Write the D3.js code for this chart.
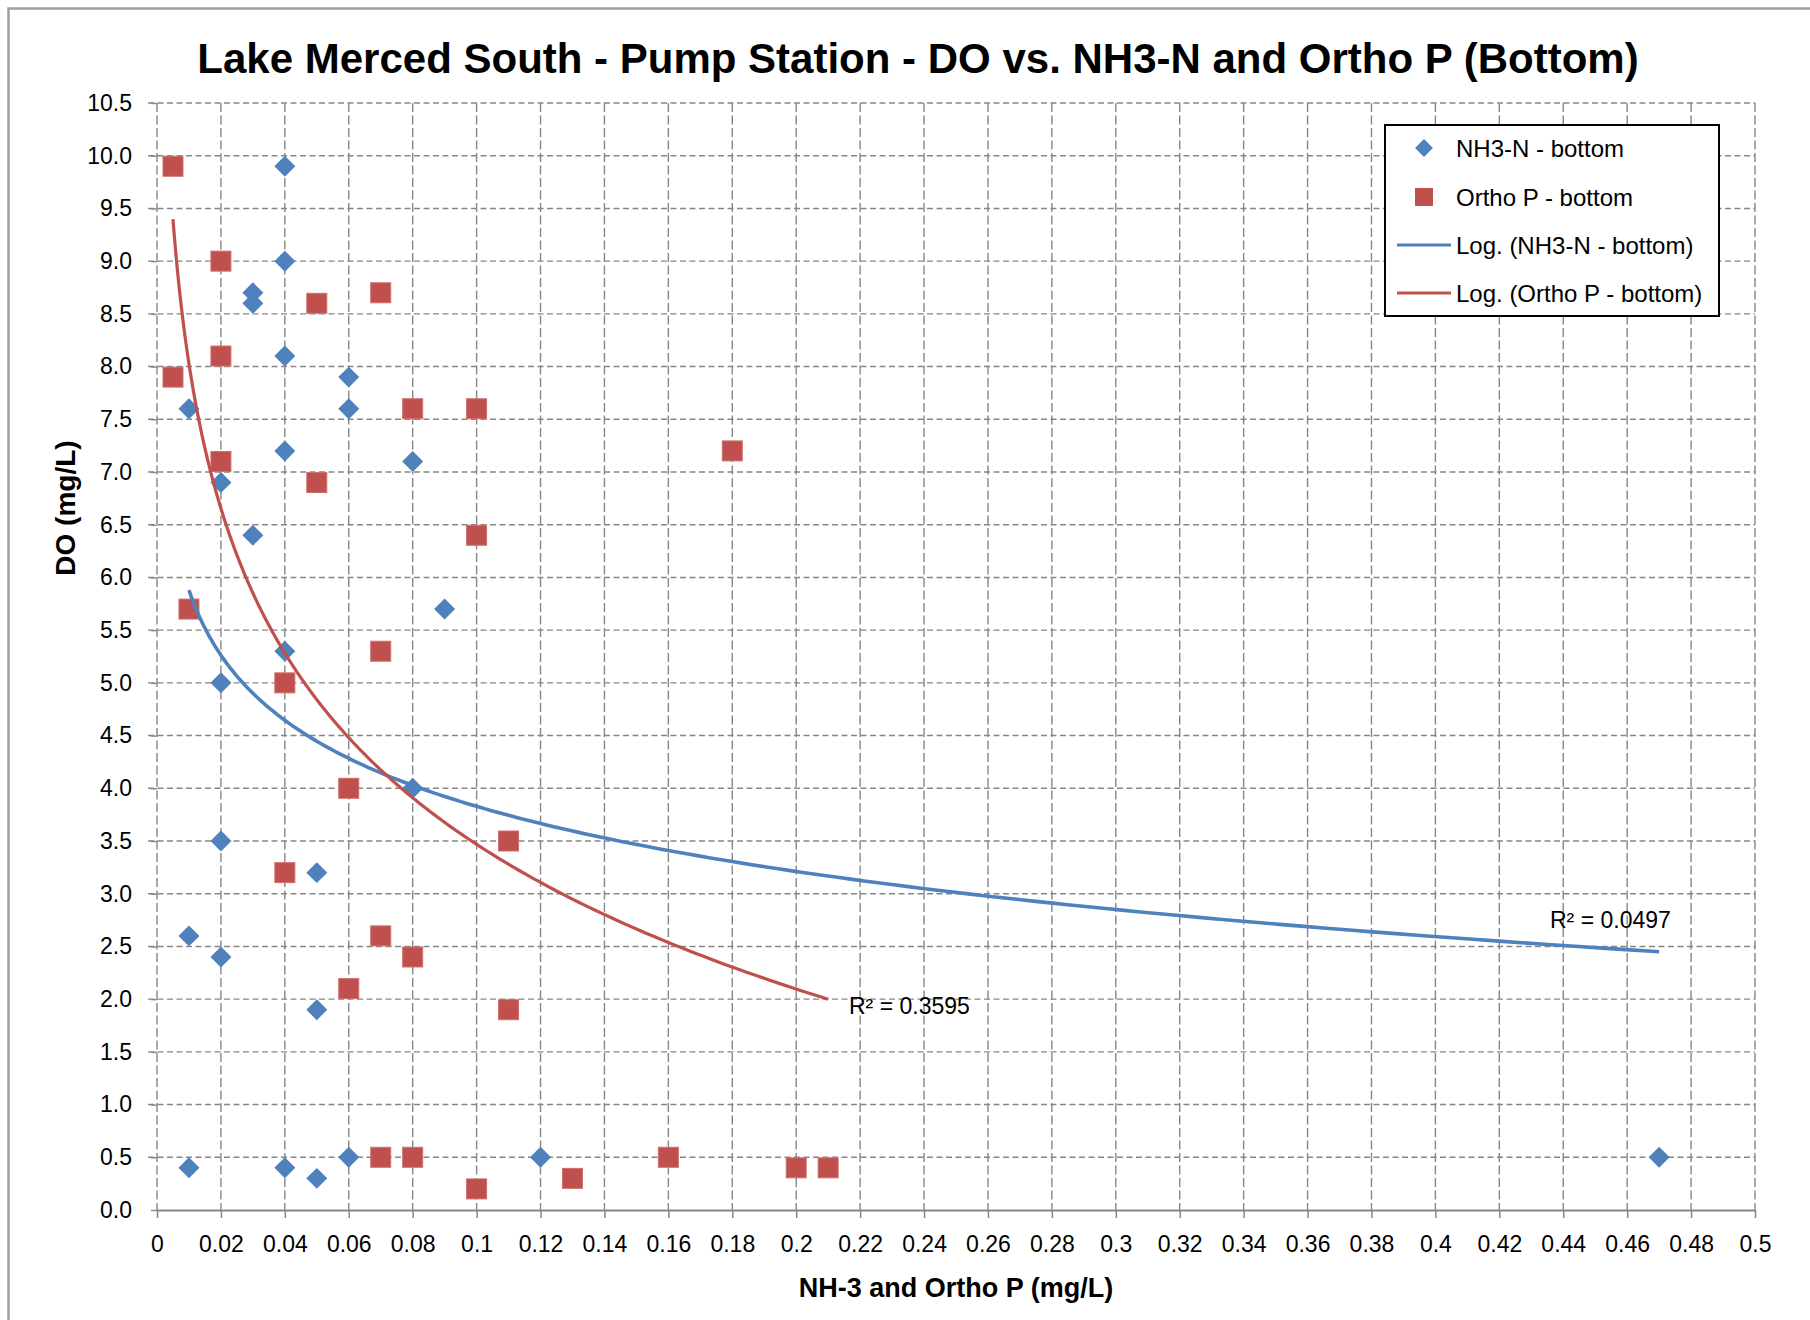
<!DOCTYPE html>
<html>
<head>
<meta charset="utf-8">
<script src="https://cdn.jsdelivr.net/npm/d3@7"></script>
<style>
  html, body { margin: 0; padding: 0; background: #fff; }
  svg { display: block; font-family: 'Liberation Sans', Arial, sans-serif; }
</style>
</head>
<body>
<div id="chart"></div>
<script>
let nh3X = [0.04, 0.04, 0.03, 0.03, 0.04, 0.06, 0.01, 0.06, 0.04, 0.08, 0.02, 0.03, 0.09, 0.04,
  0.02, 0.08, 0.02, 0.05, 0.01, 0.02, 0.05, 0.01, 0.04, 0.05, 0.06, 0.12, 0.47]
let nh3DO = [9.9, 9.0, 8.7, 8.6, 8.1, 7.9, 7.6, 7.6, 7.2, 7.1, 6.9, 6.4, 5.7, 5.3,
  5.0, 4.0, 3.5, 3.2, 2.6, 2.4, 1.9, 0.4, 0.4, 0.3, 0.5, 0.5, 0.5]

let orthoX = [0.005, 0.02, 0.05, 0.07, 0.005, 0.02, 0.08, 0.10, 0.18, 0.02, 0.05, 0.10, 0.01, 0.07,
  0.04, 0.06, 0.11, 0.04, 0.07, 0.08, 0.06, 0.11, 0.07, 0.08, 0.10, 0.13, 0.16, 0.20, 0.21]
let orthoDO = [9.9, 9.0, 8.6, 8.7, 7.9, 8.1, 7.6, 7.6, 7.2, 7.1, 6.9, 6.4, 5.7, 5.3,
  5.0, 4.0, 3.5, 3.2, 2.6, 2.4, 2.1, 1.9, 0.5, 0.5, 0.2, 0.3, 0.5, 0.4, 0.4]

// log trendlines y = a*ln(x) + b, coefficients
let nh3Trend = {a: -0.891, b: 1.777, r2: '0.0497'}
let orthoTrend = {a: -1.98, b: -1.091, r2: '0.3595'}

let xTicks = [0, 0.02, 0.04, 0.06, 0.08, 0.1, 0.12, 0.14, 0.16, 0.18, 0.2, 0.22, 0.24, 0.26,
  0.28, 0.3, 0.32, 0.34, 0.36, 0.38, 0.4, 0.42, 0.44, 0.46, 0.48, 0.5]
let yTicks = [0, 0.5, 1, 1.5, 2, 2.5, 3, 3.5, 4, 4.5, 5, 5.5, 6, 6.5, 7, 7.5, 8, 8.5, 9, 9.5, 10, 10.5]

let legendLabels = ['NH3-N - bottom', 'Ortho P - bottom', 'Log. (NH3-N - bottom)', 'Log. (Ortho P - bottom)']

let blue = '#4f81bd'
let red = '#c0504d'
let gridColor = '#868686'

let width = 1810
let height = 1320

let svg = d3.select('#chart')
  .append('svg')
    .attr('width', width)
    .attr('height', height)

// outer frame (only top and left edges visible)
svg.append('path')
  .attr('d', 'M8.5,1320 V8.5 H1810')
  .attr('fill', 'none')
  .attr('stroke', '#a0a0a0')
  .attr('stroke-width', 2.5)

let x = d3.scaleLinear().domain([0, 0.5]).range([157, 1755])
let y = d3.scaleLinear().domain([0, 10.5]).range([1210, 103])

svg.append('text')
  .attr('x', 918)
  .attr('y', 73)
  .attr('text-anchor', 'middle')
  .style('font-size', '42px')
  .style('font-weight', 'bold')
  .text('Lake Merced South - Pump Station - DO vs. NH3-N and Ortho P (Bottom)')

// grid
let grid = svg.append('g')
grid.selectAll('line.h')
  .data(yTicks.filter(d => d > 0))
  .enter()
  .append('line')
    .attr('class', 'h')
    .attr('x1', x(0) - 9)
    .attr('x2', x(0.5))
    .attr('y1', d => y(d))
    .attr('y2', d => y(d))
    .attr('stroke', gridColor)
    .attr('stroke-width', 1.4)
    .attr('stroke-dasharray', '6,3.5')

grid.selectAll('line.v')
  .data(xTicks)
  .enter()
  .append('line')
    .attr('class', 'v')
    .attr('x1', d => x(d))
    .attr('x2', d => x(d))
    .attr('y1', y(10.5))
    .attr('y2', y(0))
    .attr('stroke', gridColor)
    .attr('stroke-width', 1.4)
    .attr('stroke-dasharray', '9,3.5')

// axes
let yAxis = svg.append('g')
  .attr('transform', `translate(${x(0)},0)`)
  .call(d3.axisLeft(y).tickValues(yTicks).tickFormat(d3.format('.1f')).tickSize(9).tickPadding(16))
yAxis.select('.domain').remove()
yAxis.selectAll('.tick line')
  .attr('stroke', gridColor)
  .attr('stroke-width', 1.4)
  .attr('stroke-dasharray', '6,3.5')
yAxis.selectAll('.tick text')
  .attr('x', -25)
  .attr('fill', '#000')
  .style('font-size', '23px')
  .style('font-family', 'Liberation Sans, Arial, sans-serif')

let xAxis = svg.append('g')
  .attr('transform', `translate(0,${y(0)})`)
  .call(d3.axisBottom(x).tickValues(xTicks).tickFormat(d3.format('~g')).tickSize(8).tickSizeOuter(0))
xAxis.select('.domain')
  .attr('stroke', gridColor)
  .attr('stroke-width', 2)
xAxis.selectAll('.tick line')
  .attr('stroke', gridColor)
  .attr('stroke-width', 1.5)
xAxis.selectAll('.tick text')
  .attr('y', 0)
  .attr('dy', 0)
  .attr('transform', 'translate(0,42)')
  .attr('fill', '#000')
  .style('font-size', '23px')
  .style('font-family', 'Liberation Sans, Arial, sans-serif')

svg.append('text')
  .attr('x', 956)
  .attr('y', 1297)
  .attr('text-anchor', 'middle')
  .style('font-size', '27px')
  .style('font-weight', 'bold')
  .text('NH-3 and Ortho P (mg/L)')

svg.append('text')
  .attr('transform', 'translate(74.5,508) rotate(-90)')
  .attr('text-anchor', 'middle')
  .style('font-size', '28px')
  .style('font-weight', 'bold')
  .text('DO (mg/L)')

// markers
let diamond = d3.symbol().type(d3.symbolSquare).size(220)

svg.append('g')
  .selectAll('path')
  .data(nh3X.map((d, i) => [d, nh3DO[i]]))
  .enter()
  .append('path')
    .attr('d', diamond)
    .attr('transform', d => `translate(${x(d[0])},${y(d[1])}) rotate(45)`)
    .attr('fill', blue)

svg.append('g')
  .selectAll('rect')
  .data(orthoX.map((d, i) => [d, orthoDO[i]]))
  .enter()
  .append('rect')
    .attr('x', d => x(d[0]) - 10)
    .attr('y', d => y(d[1]) - 10)
    .attr('width', 20)
    .attr('height', 20)
    .attr('fill', red)
    .attr('stroke', '#cf6f6c')
    .attr('stroke-width', 1)

// trendlines
let trendLine = (t, xs) => {
  let ext = d3.extent(xs)
  let pts = d3.range(0, 201).map(i => {
    let xv = ext[0] * Math.pow(ext[1] / ext[0], i / 200)
    return [xv, t.a * Math.log(xv) + t.b]
  })
  return pts
}
let line = d3.line().x(d => x(d[0])).y(d => y(d[1]))

svg.append('path')
  .datum(trendLine(nh3Trend, nh3X))
  .attr('d', line)
  .attr('fill', 'none')
  .attr('stroke', blue)
  .attr('stroke-width', 3.6)

svg.append('path')
  .datum(trendLine(orthoTrend, orthoX))
  .attr('d', line)
  .attr('fill', 'none')
  .attr('stroke', red)
  .attr('stroke-width', 3.2)

svg.append('text')
  .attr('x', 849)
  .attr('y', 1014)
  .style('font-size', '23px')
  .text('R² = ' + orthoTrend.r2)

svg.append('text')
  .attr('x', 1550)
  .attr('y', 928)
  .style('font-size', '23px')
  .text('R² = ' + nh3Trend.r2)

// legend
let legend = svg.append('g')
legend.append('rect')
  .attr('x', 1385)
  .attr('y', 125)
  .attr('width', 334)
  .attr('height', 191)
  .attr('fill', '#fff')
  .attr('stroke', '#000')
  .attr('stroke-width', 2)

let rowY = [148, 197, 245, 293]
let rows = legend.selectAll('g.row')
  .data(legendLabels)
  .enter()
  .append('g')
    .attr('class', 'row')
    .attr('transform', (d, i) => `translate(0,${rowY[i]})`)

rows.append('text')
  .attr('x', 1456)
  .attr('y', 8.5)
  .style('font-size', '24px')
  .text(d => d)

legend.append('path')
  .attr('d', d3.symbol().type(d3.symbolSquare).size(160))
  .attr('transform', `translate(1424,${rowY[0]}) rotate(45)`)
  .attr('fill', blue)
legend.append('rect')
  .attr('x', 1415)
  .attr('y', rowY[1] - 9)
  .attr('width', 18)
  .attr('height', 18)
  .attr('fill', red)
legend.append('line')
  .attr('x1', 1397).attr('x2', 1451)
  .attr('y1', rowY[2]).attr('y2', rowY[2])
  .attr('stroke', blue)
  .attr('stroke-width', 3.2)
legend.append('line')
  .attr('x1', 1397).attr('x2', 1451)
  .attr('y1', rowY[3]).attr('y2', rowY[3])
  .attr('stroke', red)
  .attr('stroke-width', 3.2)
</script>
</body>
</html>
